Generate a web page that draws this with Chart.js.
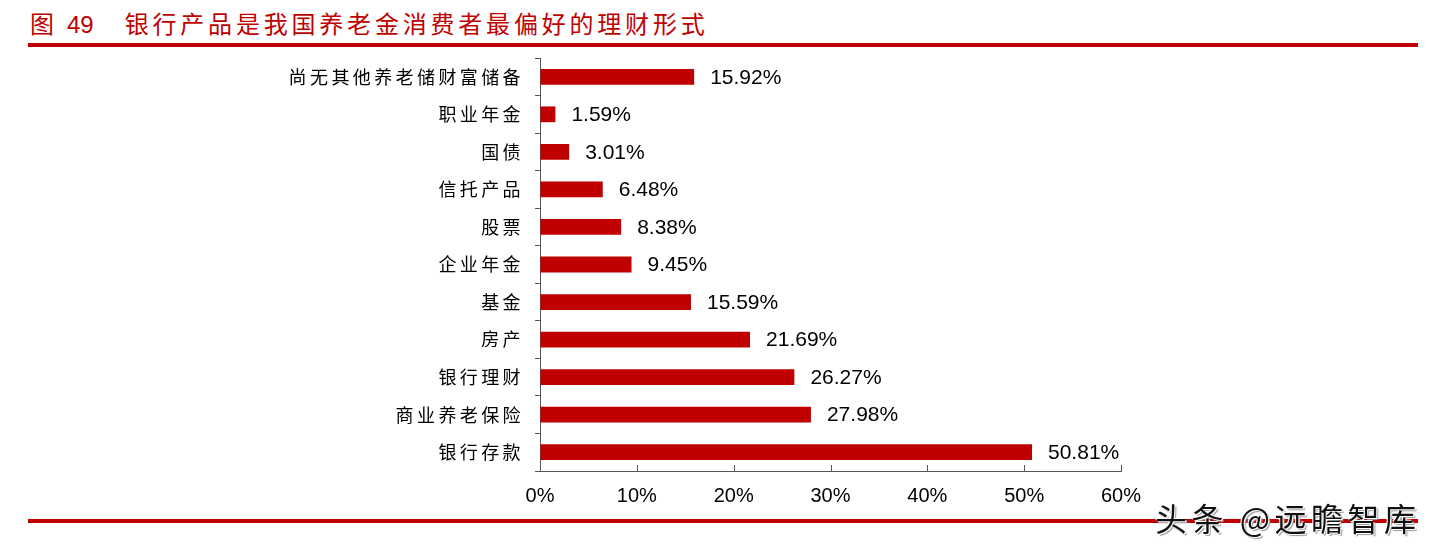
<!DOCTYPE html>
<html>
<head>
<meta charset="utf-8">
<script src="https://cdn.jsdelivr.net/npm/chart.js@4.4.1/dist/chart.umd.min.js"></script>
<style>
  body { margin: 0; background: #fff; width: 1434px; height: 550px; overflow: hidden; position: relative; }
  #title { position: absolute; left: 30px; top: 5px; font: 24px "Noto Sans CJK SC", sans-serif; color: #c00000; letter-spacing: 3.8px; white-space: nowrap; }
  #title .num { font-family: "Liberation Sans", Arial, sans-serif; letter-spacing: 0; margin-right: 31px; }
  .rule { position: absolute; left: 28px; width: 1390px; height: 4px; background: #c00000; }
  #mark { position: absolute; left: 1155px; top: 494px; font: 32px "Noto Sans CJK SC", sans-serif; color: #111; letter-spacing: 4.5px;
          text-shadow: -1px -1px 0 #fff, 1px 1px 0 #fff, 2px 2px 1px #999; white-space: nowrap; }
  canvas { position: absolute; left: 0; top: 0; }
</style>
</head>
<body>
<div id="title">图 <span class="num">49</span>银行产品是我国养老金消费者最偏好的理财形式</div>
<div class="rule" style="top:43px"></div>
<canvas id="chart" width="1434" height="550"></canvas>
<div class="rule" style="top:519px"></div>
<div id="mark">头条 @远瞻智库</div>
<script>
const categories = ["尚无其他养老储财富储备", "职业年金", "国债", "信托产品", "股票", "企业年金", "基金", "房产", "银行理财", "商业养老保险", "银行存款"];
const shares = [15.92, 1.59, 3.01, 6.48, 8.38, 9.45, 15.59, 21.69, 26.27, 27.98, 50.81];
const xTicks = [0, 10, 20, 30, 40, 50, 60];

// letter spacing for the category labels only
const spacingPlugin = {
  id: "spacing",
  beforeDraw(chart) { chart.ctx.letterSpacing = "3.4px"; },
  beforeDatasetsDraw(chart) { chart.ctx.letterSpacing = "0px"; }
};

// value labels + small upward ticks on x axis
const extrasPlugin = {
  id: "extras",
  afterDatasetsDraw(chart) {
    const ctx = chart.ctx;
    const meta = chart.getDatasetMeta(0);
    ctx.save();
    ctx.font = "21px 'Liberation Sans', Arial, sans-serif";
    ctx.fillStyle = "#000";
    ctx.textBaseline = "middle";
    meta.data.forEach((bar, i) => {
      ctx.fillText(shares[i].toFixed(2) + "%", bar.x + 16, bar.y + 1);
    });
    const xs = chart.scales.x;
    const bottom = chart.chartArea.bottom;
    ctx.strokeStyle = "#555";
    ctx.lineWidth = 1;
    xs.ticks.forEach((t, i) => {
      const px = Math.round(xs.getPixelForTick(i)) + 0.5;
      ctx.beginPath();
      ctx.moveTo(px, bottom);
      ctx.lineTo(px, bottom - 6);
      ctx.stroke();
    });
    ctx.restore();
  }
};

new Chart(document.getElementById("chart"), {
  type: "bar",
  data: {
    labels: categories,
    datasets: [{ data: shares, backgroundColor: "#c00000", borderWidth: 0, barPercentage: 0.42, categoryPercentage: 1 }]
  },
  options: {
    indexAxis: "y",
    responsive: false,
    animation: false,
    layout: { padding: { left: 0, right: 313, top: 58, bottom: 29 } },
    plugins: { legend: { display: false }, tooltip: { enabled: false } },
    scales: {
      x: {
        min: 0, max: 60,
        afterBuildTicks: s => { s.ticks = xTicks.map(v => ({ value: v })); },
        ticks: { z: 1, padding: 13, color: "#000", font: { size: 20, family: "'Liberation Sans', Arial, sans-serif" }, callback: v => v + "%" },
        grid: { drawOnChartArea: false, drawTicks: false },
        border: { color: "#555", width: 1 }
      },
      y: {
        afterFit: s => { s.width = 540; },
        ticks: { padding: 11, color: "#000", font: { size: 18, family: "'Noto Sans CJK SC', sans-serif" } },
        grid: { drawOnChartArea: false, drawTicks: true, tickLength: 5, color: "#555" },
        border: { color: "#555", width: 1 }
      }
    }
  },
  plugins: [spacingPlugin, extrasPlugin]
});
</script>
</body>
</html>
